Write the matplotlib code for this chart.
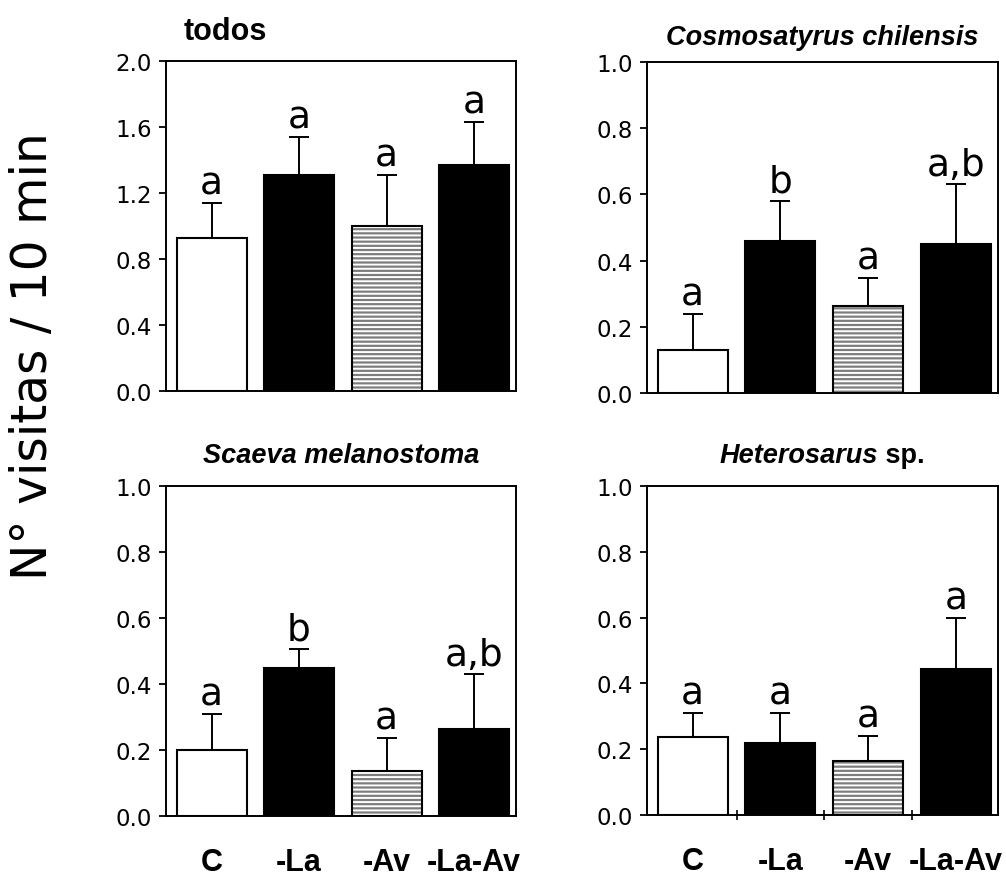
import numpy as np
import matplotlib
matplotlib.use("Agg")
import matplotlib.pyplot as plt

# treatments and group means / standard errors for each panel
treatments = ["C", "-La", "-Av", "-La-Av"]

todos_mean = [0.93, 1.31, 1.00, 1.37]
todos_se = [0.21, 0.23, 0.31, 0.26]
todos_letters = ["a", "a", "a", "a"]

cosmo_mean = [0.13, 0.46, 0.263, 0.45]
cosmo_se = [0.11, 0.12, 0.085, 0.18]
cosmo_letters = ["a", "b", "a", "a,b"]

scaeva_mean = [0.20, 0.45, 0.136, 0.264]
scaeva_se = [0.11, 0.056, 0.10, 0.166]
scaeva_letters = ["a", "b", "a", "a,b"]

hetero_mean = [0.237, 0.219, 0.164, 0.444]
hetero_se = [0.073, 0.091, 0.076, 0.156]
hetero_letters = ["a", "a", "a", "a"]

plt.rcParams['hatch.linewidth'] = 1.4

fig = plt.figure(figsize=(10.06, 8.79), dpi=100)
W, H = 1006.0, 879.0

def make_ax(left, top, right, bottom):
    return fig.add_axes([left / W, 1 - bottom / H, (right - left) / W, (bottom - top) / H])

ax1 = make_ax(166, 62, 516, 392)
ax2 = make_ax(647, 63, 998, 394)
ax3 = make_ax(166, 487, 516, 817)
ax4 = make_ax(647, 487, 998, 816)

title_font = dict(family="Liberation Sans", fontsize=19.5, fontweight="bold")


def draw_panel(ax, mean, se, letters, ymax, ystep, show_xlabels):
    x = np.arange(len(mean))
    mean = np.asarray(mean)
    se = np.asarray(se)
    # C white, -La black, -Av grey striped, -La-Av black
    ax.bar(x[0], mean[0], 0.8, color="white", edgecolor="black", linewidth=1.5)
    ax.bar(x[1], mean[1], 0.8, color="black", edgecolor="black", linewidth=1.5)
    ax.bar(x[2], mean[2], 0.8, color="#7d7d7d", edgecolor="white", hatch="----", linewidth=0)
    ax.bar(x[2], mean[2], 0.8, fill=False, edgecolor="black", linewidth=1.5)
    ax.bar(x[3], mean[3], 0.8, color="black", edgecolor="black", linewidth=1.5)
    ax.errorbar(x, mean, yerr=[np.zeros_like(se), se], fmt="none", ecolor="black",
                elinewidth=1.4, capsize=7.5, capthick=1.4, zorder=1)
    for xi, m, s, lab in zip(x, mean, se, letters):
        ax.annotate(lab, (xi, m + s), xytext=(0, 1), textcoords="offset points",
                    ha="center", va="bottom", fontsize=27, family="DejaVu Sans")

    ax.set_xlim(-0.52, 3.48)
    ax.set_ylim(0, ymax)
    ticks = np.arange(0, ymax + ystep / 2, ystep)
    ax.set_yticks(ticks)
    ax.set_yticklabels(["%.1f" % t for t in ticks], fontsize=16.5, family="DejaVu Sans")
    ax.tick_params(axis="y", direction="out", length=5, width=1.3, pad=5)
    ax.set_xticks(x)
    if show_xlabels:
        ax.set_xticklabels(treatments, fontsize=22, fontweight="bold", family="Liberation Sans")
    else:
        ax.set_xticklabels([])
    ax.tick_params(axis="x", length=0, pad=22)
    for sp in ax.spines.values():
        sp.set_linewidth(1.4)


draw_panel(ax1, todos_mean, todos_se, todos_letters, 2.0, 0.4, False)
draw_panel(ax2, cosmo_mean, cosmo_se, cosmo_letters, 1.0, 0.2, False)
draw_panel(ax3, scaeva_mean, scaeva_se, scaeva_letters, 1.0, 0.2, True)
draw_panel(ax4, hetero_mean, hetero_se, hetero_letters, 1.0, 0.2, True)

# small separators between groups on the last panel's x axis
ax4.set_xticks([0.5, 1.5, 2.5], minor=True)
ax4.tick_params(axis="x", which="minor", direction="inout", length=7, width=1.2)

ax1.annotate("todos", (0.05, 1), xycoords="axes fraction", xytext=(0, 16),
             textcoords="offset points", ha="left", va="baseline",
             family="Liberation Sans", fontsize=22, fontweight="bold")
ax2.annotate("Cosmosatyrus chilensis", (0.5, 1), xycoords="axes fraction", xytext=(0, 13),
             textcoords="offset points", ha="center", va="baseline", style="italic", **title_font)
ax3.annotate("Scaeva melanostoma", (0.5, 1), xycoords="axes fraction", xytext=(0, 17),
             textcoords="offset points", ha="center", va="baseline", style="italic", **title_font)
t1 = ax4.annotate("Heterosarus", (0.657, 1), xycoords="axes fraction", xytext=(0, 17),
                  textcoords="offset points", ha="right", va="baseline", style="italic", **title_font)
ax4.annotate(" sp.", (1, 0), xycoords=t1, ha="left", va="bottom", **title_font)

fig.text(33 / W, 1 - 356 / H, "N° visitas / 10 min", rotation=90, ha="center", va="center",
         fontsize=35, family="DejaVu Sans")

fig.savefig("out.png", dpi=100)
